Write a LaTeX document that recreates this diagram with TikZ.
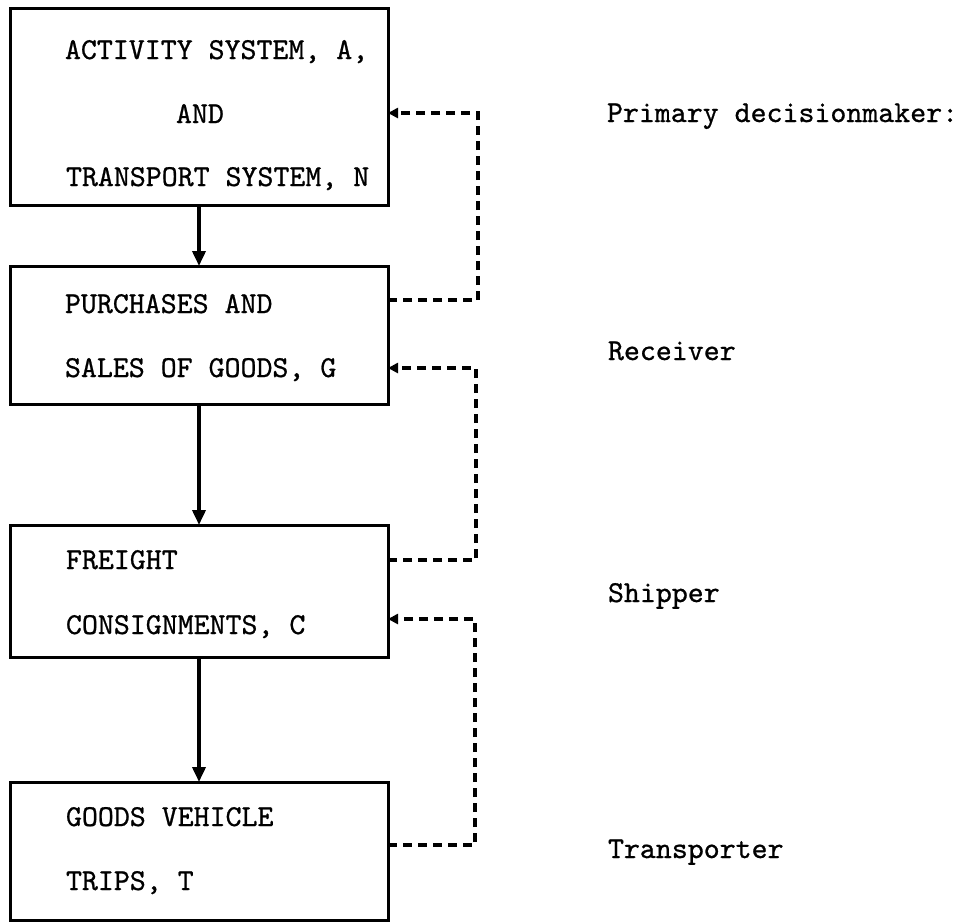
\documentclass[tikz,border=0pt]{standalone}
\usepackage{fontspec}
\usetikzlibrary{arrows.meta}
\newfontfamily\tw{lmmono10-regular.otf}[FakeBold=0.8]
\begin{document}
\begin{tikzpicture}[x=0.5pt,y=-0.5pt,
  boxnode/.style={draw,line width=1.5pt,minimum width=189pt,inner sep=0pt,outer sep=0pt},
  txt/.style={anchor=base west,inner sep=0pt,outer sep=0pt,font=\tw\fontsize{15.2pt}{15.2pt}\selectfont},
  flow/.style={line width=1.8pt,-{Triangle[length=7.5pt,width=6.5pt]}},
  fb/.style={line width=1.8pt,dash pattern=on 4.5pt off 3pt,-{Triangle[length=5pt,width=5pt]}}]
\useasboundingbox (0,0) rectangle (960,923);
\fill[white] (0,0) rectangle (960,923);
% boxes
\node[boxnode,minimum height=98.5pt] (b1) at (199,106.5) {};
\node[boxnode,minimum height=69pt] (b2) at (199,335) {};
\node[boxnode,minimum height=66pt] (b3) at (199,591) {};
\node[boxnode,minimum height=69pt] (b4) at (199,851) {};
% box texts
\node[txt] (t1a) at (65,59) {ACTIVITY SYSTEM, A,};
\node[txt] (t1b) at (176,123) {AND};
\node[txt] (t1c) at (66,186) {TRANSPORT SYSTEM, N};
\node[txt] (t2a) at (65,313) {PURCHASES AND};
\node[txt] (t2b) at (65,377) {SALES OF GOODS, G};
\node[txt] (t3a) at (66,569) {FREIGHT};
\node[txt] (t3b) at (66,634) {CONSIGNMENTS, C};
\node[txt] (t4a) at (66,826) {GOODS VEHICLE};
\node[txt] (t4b) at (66,890) {TRIPS, T};
% right labels
\node[txt] (r1) at (607,122) {Primary decisionmaker:};
\node[txt] (r2) at (608,360) {Receiver};
\node[txt] (r3) at (608,602) {Shipper};
\node[txt] (r4) at (608,858) {Transporter};
% main flow
\draw[flow] (b1.south) -- (b2.north);
\draw[flow] (b2.south) -- (b3.north);
\draw[flow] (b3.south) -- (b4.north);
% feedback loops
\coordinate (f1a) at (478,300);
\coordinate (f1b) at (478,113);
\coordinate (f2a) at (476,560);
\coordinate (f2b) at (476,368);
\coordinate (f3a) at (475,845);
\coordinate (f3b) at (475,619);
\draw[fb] (b2.east |- f1a) -- (f1a) -- (f1b) -- (b1.east |- f1b);
\draw[fb] (b3.east |- f2a) -- (f2a) -- (f2b) -- (b2.east |- f2b);
\draw[fb] (b4.east |- f3a) -- (f3a) -- (f3b) -- (b3.east |- f3b);
\end{tikzpicture}
\end{document}
